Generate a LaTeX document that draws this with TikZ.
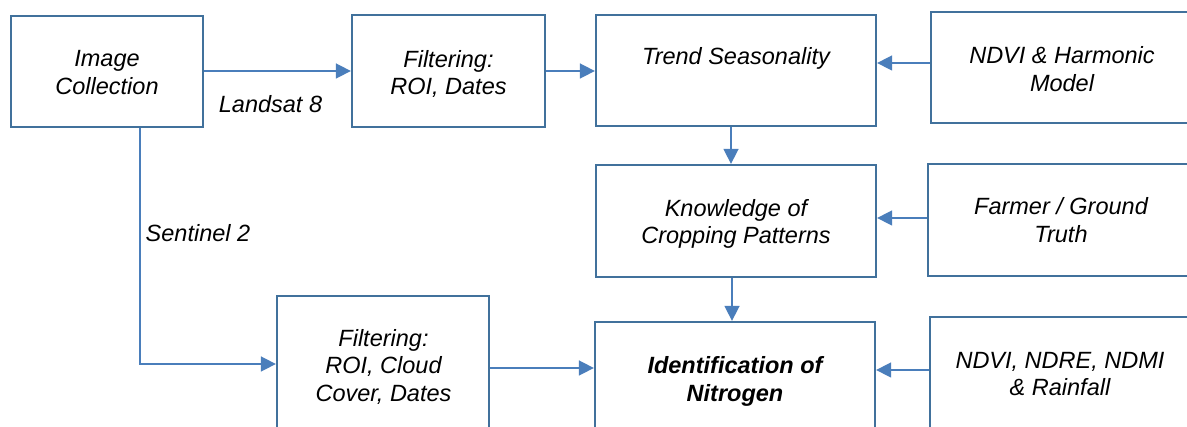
\documentclass[tikz,border=0pt]{standalone}
\usepackage{fontspec}
\setmainfont{Liberation Sans}
\usetikzlibrary{arrows.meta}
\definecolor{boxline}{HTML}{41719C}
\definecolor{arrline}{HTML}{4A7EBB}
\tikzset{
  box/.style={draw=boxline, line width=2.3pt, fill=none, inner sep=0pt},
  txt/.style={inner sep=0pt, align=center, font=\fontsize{23.5}{27.6}\selectfont\itshape},
  btxt/.style={inner sep=0pt, align=center, font=\fontsize{23.5}{27.6}\selectfont\bfseries\itshape},
  arr/.style={draw=arrline, line width=1.6pt, -{Triangle[length=15pt,width=15pt]}, shorten >=0pt}
}
\begin{document}
\begin{tikzpicture}[x=1pt,y=-1pt]
\useasboundingbox (0,0) rectangle (1187,427);
\clip (0,0) rectangle (1187,427);
\fill[white] (0,0) rectangle (1187,427);
% boxes
\node[box, minimum width=192pt, minimum height=111pt] (A) at (107,71.5) {};
\node[box, minimum width=193pt, minimum height=112pt] (B) at (448.5,71) {};
\node[box, minimum width=280pt, minimum height=111pt] (C) at (736,70.5) {};
\node[box, minimum width=269pt, minimum height=111pt] (D) at (1065.5,67.5) {};
\node[box, minimum width=280pt, minimum height=112pt] (E) at (736,221) {};
\node[box, minimum width=272pt, minimum height=112pt] (F) at (1064,220) {};
\node[box, minimum width=212pt, minimum height=154pt] (G) at (383,373) {};
\node[box, minimum width=280pt, minimum height=128pt] (H) at (735,386) {};
\node[box, minimum width=270pt, minimum height=133pt] (I) at (1065,383.5) {};
% texts
\node[txt] (tA) at (107,72.3) {Image\\Collection};
\node[txt] (tB) at (448.5,74) {Filtering:\\ROI, Dates};
\node[txt] (tC) at (736,58.9) {Trend Seasonality};
\node[txt] (tD) at (1062,69) {NDVI \& Harmonic\\Model};
\node[txt] (tE) at (736,224) {Knowledge of\\Cropping Patterns};
\node[txt] (tF) at (1061,220) {Farmer / Ground\\Truth};
\node[txt] (tG) at (383.5,366.7) {Filtering:\\ROI, Cloud\\Cover, Dates};
\node[btxt] (tH) at (735,381.5) {Identification of\\Nitrogen};
\node[txt] (tI) at (1060,374) {NDVI, NDRE, NDMI\\\& Rainfall};
\node[txt] (L8) at (270.5,104) {Landsat 8};
\node[txt] (S2) at (198,233) {Sentinel 2};
% connectors
\draw[arr] (A.east |- B.west) -- (B.west);
\draw[arr] (B.east) -- (B.east -| C.west);
\coordinate (dc) at ([yshift=4.5pt]D.west);
\draw[arr] (dc) -- (dc -| C.east);
\coordinate (ce) at ([xshift=-5pt]C.south);
\draw[arr] (ce) -- (ce |- E.north);
\coordinate (eh) at ([xshift=-4pt]E.south);
\draw[arr] (eh) -- (eh |- H.north);
\coordinate (fe) at ([yshift=2pt]F.west);
\draw[arr] (fe) -- (fe -| E.east);
\coordinate (ih) at ([yshift=13.5pt]I.west);
\draw[arr] (ih) -- (ih -| H.east);
\coordinate (gh) at ([yshift=5pt]G.east);
\draw[arr] (gh) -- (gh -| H.west);
\coordinate (ag) at ([xshift=33pt]A.south);
\coordinate (gw) at ([yshift=9pt]G.west);
\draw[arr] (ag) |- (gw);
\end{tikzpicture}
\end{document}
